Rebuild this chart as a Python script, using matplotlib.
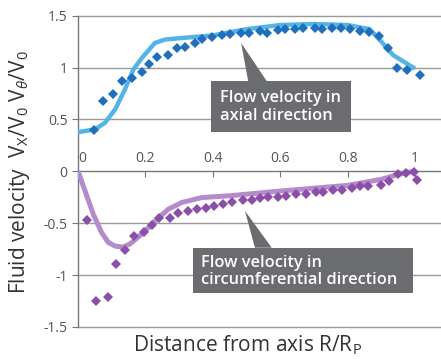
import matplotlib
matplotlib.use("Agg")
import matplotlib.pyplot as plt
from matplotlib.patches import Rectangle, Polygon

plt.rcParams['font.family'] = ['Open Sans', 'DejaVu Sans']
plt.rcParams['mathtext.fontset'] = 'custom'
plt.rcParams['mathtext.rm'] = 'Open Sans'
plt.rcParams['mathtext.it'] = 'Open Sans:italic'

# axial velocity: model line and measured points
axial_line_x = [0.0, 0.05, 0.08, 0.11, 0.139, 0.164, 0.189, 0.228, 0.258, 0.308, 0.4,
                0.5, 0.6, 0.7, 0.8, 0.866, 0.9, 0.935, 1.0]
axial_line_y = [0.378, 0.404, 0.468, 0.596, 0.788, 0.98, 1.09, 1.237, 1.27, 1.285, 1.31,
                1.37, 1.41, 1.42, 1.41, 1.37, 1.25, 1.12, 0.99]
axial_pts_x = [0.048, 0.075, 0.103, 0.131, 0.159, 0.190, 0.212, 0.234, 0.268, 0.295,
               0.318, 0.346, 0.367, 0.398, 0.426, 0.451, 0.484, 0.506, 0.540, 0.562,
               0.594, 0.614, 0.644, 0.669, 0.702, 0.724, 0.754, 0.781, 0.806, 0.837,
               0.864, 0.893, 0.921, 0.946, 0.975, 1.016]
axial_pts_y = [0.394, 0.676, 0.747, 0.872, 0.90, 0.955, 1.035, 1.10, 1.125, 1.19,
               1.20, 1.24, 1.275, 1.295, 1.31, 1.32, 1.33, 1.33, 1.35, 1.33,
               1.36, 1.37, 1.37, 1.38, 1.38, 1.37, 1.38, 1.38, 1.37, 1.35,
               1.34, 1.30, 1.19, 1.00, 0.98, 0.93]

# circumferential velocity: model line and measured points
circ_line_x = [0.0, 0.021, 0.045, 0.07, 0.09, 0.11, 0.134, 0.154, 0.189, 0.228, 0.268,
               0.308, 0.367, 0.45, 0.6, 0.8, 0.9, 0.95, 1.0]
circ_line_y = [0.003, -0.19, -0.41, -0.59, -0.685, -0.72, -0.73, -0.70, -0.605, -0.48, -0.365,
               -0.30, -0.253, -0.235, -0.19, -0.135, -0.077, -0.03, 0.005]
circ_pts_x = [0.026, 0.054, 0.089, 0.113, 0.140, 0.167, 0.195, 0.220, 0.240, 0.273,
              0.298, 0.326, 0.352, 0.380, 0.405, 0.431, 0.457, 0.489, 0.516, 0.540,
              0.563, 0.592, 0.617, 0.646, 0.678, 0.705, 0.727, 0.757, 0.784, 0.813,
              0.838, 0.860, 0.899, 0.922, 0.950, 0.974, 0.996, 1.007]
circ_pts_y = [-0.47, -1.25, -1.21, -0.89, -0.76, -0.62, -0.58, -0.52, -0.45, -0.445,
              -0.40, -0.38, -0.36, -0.35, -0.33, -0.31, -0.30, -0.28, -0.275, -0.26,
              -0.25, -0.25, -0.24, -0.215, -0.215, -0.195, -0.195, -0.18, -0.175, -0.16,
              -0.14, -0.14, -0.13, -0.09, -0.025, -0.02, -0.005, -0.08]

x_ticks = [0, 0.2, 0.4, 0.6, 0.8, 1]
x_tick_labels = ['0', '0.2', '0.4', '0.6', '0.8', '1']
y_ticks = [-1.5, -1, -0.5, 0, 0.5, 1, 1.5]
y_tick_labels = ['-1.5', '-1', '-0.5', '0', '0.5', '1', '1.5']

fig = plt.figure(figsize=(4.41, 3.59), dpi=100)
ax = fig.add_axes([78 / 441, 1 - 327 / 359, 363 / 441, (327 - 15.7) / 359])
ax.set_xlim(0, 363 / 337)
ax.set_ylim(-1.5, 1.5)

grid_c = '#9a9a9a'
for yv in y_ticks:
    if yv != 0:
        ax.axhline(yv, color=grid_c, lw=1.0, zorder=1, clip_on=False)

ax.plot(axial_line_x, axial_line_y, color='#55b4e6', lw=3.2, solid_capstyle='butt',
        solid_joinstyle='round', zorder=3)
ax.plot(axial_pts_x, axial_pts_y, 'D', color='#1f6fbd', ms=5.3, mew=0, zorder=4)
ax.plot(circ_line_x, circ_line_y, color='#b58ccb', lw=3.6, solid_capstyle='butt',
        solid_joinstyle='round', zorder=3)
ax.plot(circ_pts_x, circ_pts_y, 'D', color='#8b4fa9', ms=5.3, mew=0, zorder=4)

for s in ['top', 'right']:
    ax.spines[s].set_visible(False)
ax.spines['bottom'].set_position(('data', 0))
ax.spines['left'].set_color('#777777')
ax.spines['bottom'].set_color('#777777')
ax.spines['left'].set_linewidth(1.0)
ax.spines['bottom'].set_linewidth(1.0)

ax.set_xticks(x_ticks)
ax.set_xticklabels(x_tick_labels)
ax.set_yticks(y_ticks)
ax.set_yticklabels(y_tick_labels)
ax.tick_params(axis='both', colors='#777777', labelcolor='#555555', labelsize=10, length=4)
ax.tick_params(axis='x', pad=-19)
ax.xaxis.get_major_ticks()[0].label1.set_horizontalalignment('left')

# annotation boxes
box_c = '#6b6c6f'
ax.add_patch(Polygon([(0.484, 1.2375), (0.505, 0.87), (0.560, 0.87)], closed=True,
                     color=box_c, lw=0, zorder=5))
ax.add_patch(Rectangle((0.395, 0.375), 0.415, 0.493, color=box_c, lw=0, zorder=5))
ax.text(0.421, 0.62, 'Flow velocity in\naxial direction', color='white', fontsize=11.8,
        fontweight='semibold', va='center', ha='left', linespacing=1.12, zorder=6)

ax.add_patch(Polygon([(0.4955, -0.382), (0.525, -0.736), (0.575, -0.736)], closed=True,
                     color=box_c, lw=0, zorder=5))
ax.add_patch(Rectangle((0.340, -1.173), 0.655, 0.439, color=box_c, lw=0, zorder=5))
ax.text(0.364, -0.965, 'Flow velocity in\ncircumferential direction', color='white',
        fontsize=11.8, fontweight='semibold', va='center', ha='left', linespacing=1.12, zorder=6)

fig.text(20 / 441, 1 - 172 / 359,
         r'Fluid velocity  V$_\mathregular{X}$/V$_\mathregular{0}$ V$_\theta$/V$_\mathregular{0}$',
         rotation=90, ha='center', va='center', fontsize=15, color='#333333')
fig.text(247 / 441, 1 - 345 / 359, r'Distance from axis R/R$_\mathregular{P}$',
         ha='center', va='center', fontsize=15, color='#333333')

fig.savefig('out.png', dpi=100)
